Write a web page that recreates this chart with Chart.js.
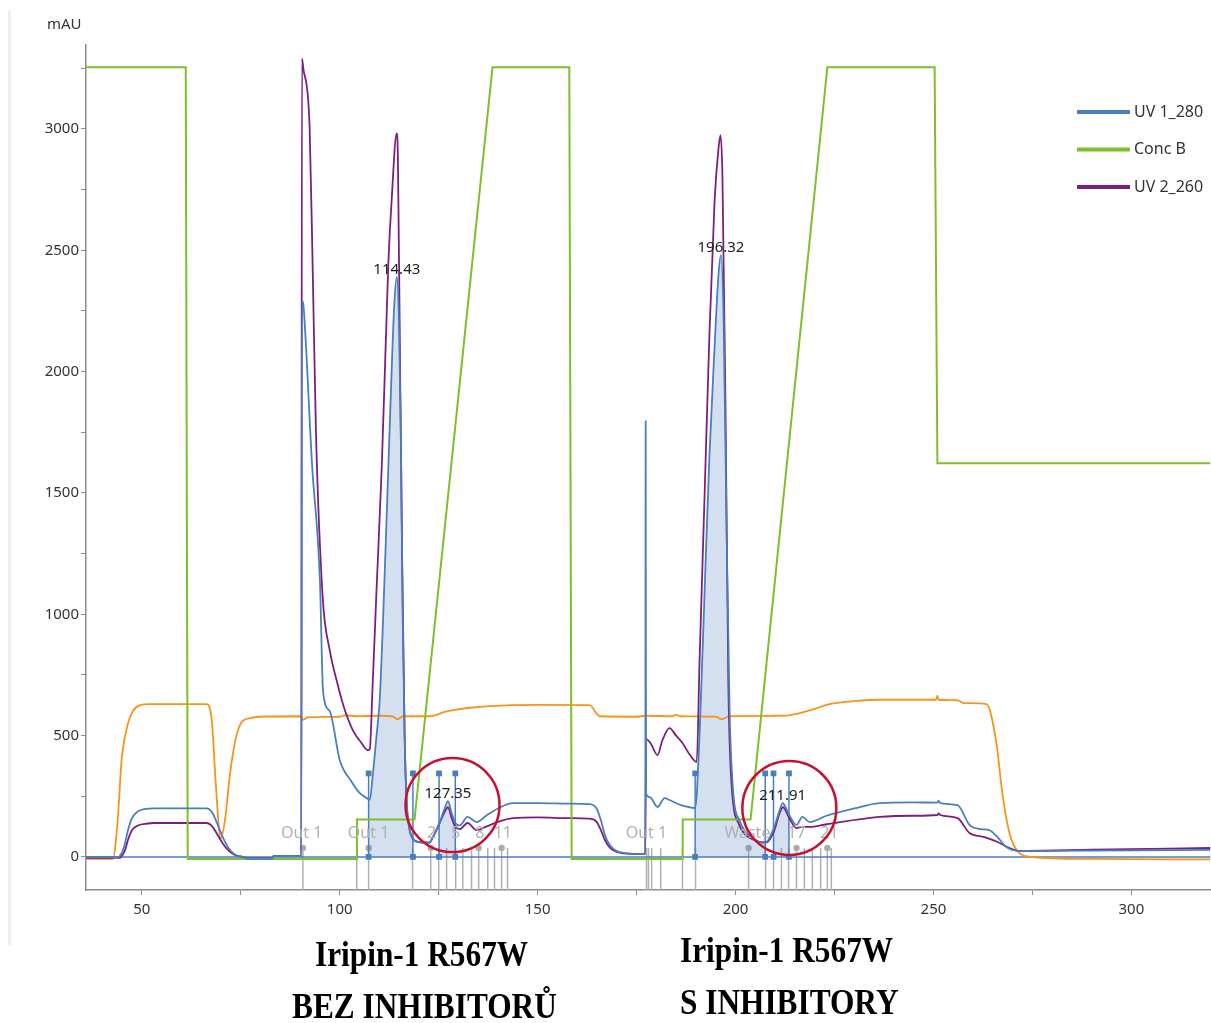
<!DOCTYPE html>
<html>
<head>
<meta charset="utf-8">
<script src="https://cdn.jsdelivr.net/npm/chart.js@4.4.0/dist/chart.umd.min.js"></script>
<style>
  body { margin: 0; background: #fff; }
  #wrap { position: relative; width: 1211px; height: 1023px; overflow: hidden; }
  #edge { position: absolute; left: 8px; top: 10px; width: 3px; height: 935px; background: #f0f0f0; }
  #chart { position: absolute; left: 0; top: 0; }
  .caption {
    position: absolute; font-family: "Liberation Serif", "Times New Roman", serif;
    font-weight: bold; font-size: 36px; line-height: 36px; color: #000;
    white-space: nowrap; transform: scaleX(0.87); transform-origin: left top;
  }
</style>
</head>
<body>
<div id="wrap">
  <div id="edge"></div>
  <!-- 5px wider than the page: Chart.js keeps a 5px right margin, which is cropped off -->
  <canvas id="chart" width="1216" height="935"></canvas>
  <div class="caption" style="left:315px; top:936px;">Iripin-1 R567W</div>
  <div class="caption" style="left:292px; top:988px;">BEZ INHIBITORŮ</div>
  <div class="caption" style="left:680px; top:932px;">Iripin-1 R567W</div>
  <div class="caption" style="left:680px; top:984px;">S INHIBITORY</div>
</div>
<script>
// axis ranges (minutes / mAU / %B)
const xMin = 35.9, xMax = 320;
const yMin = -136, yMax = 3346;
const concMin = -3.9, concMax = 102.8;
const xTicks = [50, 75, 100, 125, 150, 175, 200, 225, 250, 275, 300];
const yTicks = [0, 250, 500, 750, 1000, 1250, 1500, 1750, 2000, 2250, 2500, 2750, 3000, 3250];

// UV 1_280 (mAU)
const uv1Time = [35.9, 44.0, 44.5, 45.5, 46.5, 47.5, 49.0, 51.0, 53.0, 66.4, 67.7, 69.0, 70.5, 72.0, 73.5, 75.5, 77.0, 83.0, 83.2, 90.3,
  90.45, 90.7, 91.0, 93.0, 95.0, 95.8, 97.5, 100.0, 103.0, 105.0, 107.3, 107.6, 108.3, 109.3, 110.1, 111.0, 112.0, 113.0, 113.8, 114.43,
  114.9, 115.4, 115.9, 116.4, 116.9, 117.7, 118.5, 120.0, 122.7, 123.5, 125.1, 126.5, 127.35, 128.3, 129.2, 130.3, 132.3, 134.6, 137.0, 140.0,
  143.7, 150.0, 158.0, 163.0, 164.9, 166.0, 167.0, 168.2, 170.7, 175.8, 177.2, 177.3, 177.4, 178.3, 180.3, 182.1, 183.3, 186.0, 188.4, 189.8,
  190.9, 192.2, 193.4, 194.7, 195.7, 196.32, 197.0, 197.7, 198.5, 199.5, 201.0, 202.3, 204.0, 206.0, 207.5, 209.6, 211.1, 211.91, 213.5, 215.4,
  216.9, 218.7, 223.0, 230.0, 236.4, 245.0, 251.0, 251.3, 251.7, 256.1, 259.1, 262.0, 264.1, 266.2, 268.4, 271.7, 290.0, 320.0];
const uv1Values = [0, 0, 5, 40, 110, 160, 188, 198, 200, 200, 185, 140, 80, 35, 10, 0, -8, -8, 4, 4,
  2290, 2290, 2240, 1620, 1140, 680, 600, 400, 310, 264, 238, 235, 330, 500, 646, 1000, 1470, 1950, 2280, 2390,
  2250, 1800, 1000, 500, 230, 110, 75, 60, 58, 82, 135, 200, 230, 180, 140, 130, 165, 144, 170, 200,
  222, 222, 220, 218, 200, 150, 90, 50, 20, 12, 12, 1796, 260, 247, 206, 243, 235, 215, 205, 202,
  500, 1100, 1650, 2100, 2400, 2480, 2200, 1400, 600, 250, 150, 110, 80, 62, 58, 115, 190, 222, 175, 132,
  165, 144, 170, 200, 222, 225, 224, 232, 222, 214, 132, 115, 111, 82, 41, 25, 26, 29];

// UV 2_260 (mAU)
const uv2Time = [35.9, 44.2, 44.7, 45.7, 46.5, 47.5, 49.0, 51.5, 53.0, 66.4, 67.7, 69.0, 70.5, 72.0, 73.5, 75.5, 77.0, 83.0, 83.2, 90.3,
  90.45, 90.8, 92.4, 93.2, 94.0, 95.7, 97.5, 99.2, 101.0, 103.3, 105.5, 107.1, 107.6, 108.3, 109.3, 110.6, 111.6, 112.3, 113.1, 114.4,
  114.7, 115.2, 115.8, 116.4, 116.9, 117.7, 118.5, 120.0, 122.7, 123.5, 125.1, 126.5, 127.35, 128.3, 129.2, 130.3, 132.3, 134.6, 137.0, 140.0,
  143.7, 150.0, 158.0, 163.0, 164.9, 166.0, 167.0, 168.2, 170.7, 175.8, 177.2, 177.4, 178.5, 180.3, 181.5, 183.3, 185.0, 186.6, 188.5, 190.2,
  190.9, 192.2, 193.4, 194.7, 195.7, 196.2, 196.7, 197.5, 198.2, 199.0, 201.0, 202.3, 204.0, 206.0, 207.8, 209.8, 211.1, 212.0, 213.6, 215.4,
  216.9, 218.7, 223.0, 236.4, 245.0, 251.0, 251.3, 251.7, 256.1, 259.1, 262.9, 266.2, 269.2, 271.7, 290.0, 320.0];
const uv2Values = [-4, -4, 0, 25, 70, 110, 130, 138, 140, 140, 128, 95, 55, 25, 8, 0, -6, -6, 4, 4,
  3290, 3250, 3006, 2400, 1750, 1070, 850, 729, 620, 523, 470, 440, 445, 700, 1100, 1600, 2100, 2450, 2700, 2982,
  2880, 2100, 1200, 500, 230, 110, 75, 62, 60, 80, 135, 185, 205, 160, 125, 115, 140, 111, 125, 145,
  160, 163, 160, 158, 145, 110, 70, 40, 18, 12, 12, 486, 470, 420, 480, 531, 500, 470, 420, 391,
  800, 1500, 2150, 2700, 2920, 2975, 2800, 1800, 700, 300, 130, 95, 75, 62, 60, 110, 180, 205, 160, 119,
  125, 124, 135, 165, 170, 173, 180, 173, 160, 99, 82, 62, 37, 25, 30, 37];

// Conc B (%)
const concTime = [35.9, 61.1, 61.6, 104.3, 104.35, 118.9, 138.6, 158.0, 158.6, 186.6, 186.65, 203.8, 223.2, 250.3, 251.0, 320.0];
const concValues = [100, 100, 0, 0, 5, 5, 100, 100, 0, 0, 5, 5, 100, 100, 50, 50];

// conductivity trace (orange, shown in mAU scale)
const condTime = [35.9, 42.7, 43.9, 44.9, 46.2, 47.7, 49.5, 52.0, 66.4, 67.7, 68.7, 69.9, 71.0, 72.2, 73.5, 75.0, 77.3, 79.8, 90.3, 90.6,
  92.0, 100.0, 101.5, 104.0, 110.0, 113.5, 114.6, 116.0, 122.7, 127.0, 133.0, 143.7, 150.0, 163.1, 165.7, 175.0, 177.3, 184.0, 185.0, 186.0,
  195.0, 196.5, 198.5, 210.0, 213.6, 216.0, 220.0, 223.7, 230.0, 236.4, 250.7, 251.0, 251.3, 256.1, 257.8, 263.4, 265.9, 267.4, 269.2, 271.7,
  275.0, 290.0, 320.0];
const condValues = [-8, -8, 150, 400, 530, 600, 625, 630, 630, 560, 300, 78, 150, 330, 470, 550, 572, 578, 580, 565,
  575, 578, 584, 580, 582, 578, 568, 580, 580, 600, 615, 626, 627, 626, 580, 578, 582, 580, 586, 580,
  578, 568, 580, 582, 584, 592, 610, 630, 642, 648, 648, 665, 648, 646, 634, 630, 470, 264, 99, 16,
  0, -8, -10];

// integrated peaks
const peakTimes = [114.43, 127.35, 196.32, 211.91];
const peakHeights = [2390, 230, 2480, 222];
const peakStart = [107.3, 125.1, 189.8, 209.6];
const peakEnd = [118.5, 129.2, 207.5, 213.5];
const peakMarkerTop = 345;

// fractions
const fractionTimes = [90.7, 104.3, 107.3, 118.4, 123.0, 125.0, 127.0, 129.3, 131.1, 133.3, 135.1, 137.4, 139.1, 140.9, 142.4,
  177.5, 178.0, 178.8, 181.1, 186.6, 189.9, 203.3, 207.6, 209.6, 211.6, 213.4, 215.4, 217.4, 219.4, 221.5, 223.2, 224.2];
const fractionDots = [90.7, 107.3, 123.0, 135.1, 141.2, 203.3, 215.4, 223.2];
const fractionTop = 37;
const fractionLabelTimes = [90.4, 107.3, 123.2, 129.3, 135.4, 141.2, 177.5, 203.0, 215.4, 223.7];
const fractionLabels = ['Out 1', 'Out 1', '2', '5', '8', '11', 'Out 1', 'Waste', '17', '21'];

// highlighted peaks (red circles)
const circleTimes = [128.5, 213.6];
const circleValues = [214, 202];

const BLUE = '#4a7ebf', GREEN = '#7cc02a', PURPLE = '#7b1f7e', ORANGE = '#f7941d';

const toXY = (ts, vs) => ts.map((t, i) => ({ x: t, y: vs[i] }));
const uv1Points = toXY(uv1Time, uv1Values);

// shaded area under UV1 inside peak windows
const shadePoints = [];
peakStart.forEach((s, k) => {
  uv1Points.forEach(p => { if (p.x >= s && p.x <= peakEnd[k]) shadePoints.push(p); });
  shadePoints.push({ x: peakEnd[k], y: null });
});

const markerPoints = [];
peakStart.concat(peakEnd).sort((a, b) => a - b).forEach(t => {
  markerPoints.push({ x: t, y: 0 }, { x: t, y: peakMarkerTop }, { x: t, y: null });
});

const fractionPoints = [];
fractionTimes.forEach(t => {
  fractionPoints.push({ x: t, y: yMin }, { x: t, y: fractionTop }, { x: t, y: null });
});
const hasDot = t => fractionDots.some(d => Math.abs(d - t) < 0.3);

const legendItems = [
  { label: 'UV 1_280', color: BLUE },
  { label: 'Conc B', color: GREEN },
  { label: 'UV 2_260', color: PURPLE }
];

const overlayPlugin = {
  id: 'overlay',
  afterDatasetsDraw(chart) {
    const ctx = chart.ctx;
    const xs = chart.scales.x, ys = chart.scales.y;
    ctx.save();
    // fraction labels
    ctx.font = '16px "Noto Sans", sans-serif';
    ctx.fillStyle = '#b0b0b0';
    ctx.textAlign = 'center';
    ctx.textBaseline = 'middle';
    fractionLabelTimes.forEach((t, i) => {
      ctx.fillText(fractionLabels[i], xs.getPixelForValue(t), ys.getPixelForValue(0) - 24);
    });
    // peak labels
    ctx.font = '15px "Noto Sans", sans-serif';
    ctx.fillStyle = '#222';
    peakTimes.forEach((t, i) => {
      ctx.fillText(t.toFixed(2), xs.getPixelForValue(t), ys.getPixelForValue(peakHeights[i]) - 7);
    });
    // red circles
    ctx.strokeStyle = '#c8102e';
    ctx.lineWidth = 2.5;
    circleTimes.forEach((t, i) => {
      ctx.beginPath();
      ctx.arc(xs.getPixelForValue(t), ys.getPixelForValue(circleValues[i]), 47, 0, Math.PI * 2);
      ctx.stroke();
    });
    // legend
    ctx.font = '16px "Noto Sans", sans-serif';
    ctx.textAlign = 'left';
    legendItems.forEach((item, i) => {
      const y = 112 + i * 37.5;
      ctx.strokeStyle = item.color;
      ctx.lineWidth = 4;
      ctx.beginPath();
      ctx.moveTo(1077, y);
      ctx.lineTo(1130, y);
      ctx.stroke();
      ctx.fillStyle = '#333';
      ctx.fillText(item.label, 1134, y);
    });
    // axis unit
    ctx.font = '15px "Noto Sans", sans-serif';
    ctx.fillStyle = '#333';
    ctx.fillText('mAU', chart.chartArea.left - 39, chart.chartArea.top - 20);
    ctx.restore();
  }
};

new Chart(document.getElementById('chart'), {
  type: 'line',
  data: {
    datasets: [
      { label: 'UV 1_280', data: uv1Points, borderColor: BLUE, borderWidth: 1.8, order: 0 },
      { label: 'Conc B', data: toXY(concTime, concValues), borderColor: GREEN, borderWidth: 2, yAxisID: 'yConc', cubicInterpolationMode: 'default', tension: 0, order: 1 },
      { label: 'UV 2_260', data: toXY(uv2Time, uv2Values), borderColor: PURPLE, borderWidth: 1.8, order: 2 },
      { label: 'Cond', data: toXY(condTime, condValues), borderColor: ORANGE, borderWidth: 1.8, order: 3 },
      { label: 'Peaks', data: markerPoints, borderColor: BLUE, backgroundColor: BLUE, borderWidth: 1.5,
        pointRadius: 3, pointStyle: 'rect', spanGaps: false, tension: 0, cubicInterpolationMode: 'default', order: 4 },
      { label: 'Baseline', data: [{ x: xMin, y: 0 }, { x: xMax, y: 0 }], borderColor: BLUE, borderWidth: 1.5, order: 5 },
      { label: 'Peak area', data: shadePoints, borderColor: 'rgba(0,0,0,0)', borderWidth: 0,
        backgroundColor: 'rgba(74,126,191,0.24)', fill: 'origin', spanGaps: false, order: 6 },
      { label: 'Fractions', data: fractionPoints, borderColor: '#b0b0b0', backgroundColor: '#a8a8a8', borderWidth: 1.5,
        spanGaps: false, tension: 0, cubicInterpolationMode: 'default', order: 7,
        pointRadius: c => (c.raw && c.raw.y === fractionTop && hasDot(c.raw.x) ? 2.5 : 0) }
    ]
  },
  options: {
    responsive: false,
    animation: false,
    devicePixelRatio: 1,
    layout: { padding: { top: 45, right: 0, left: 0, bottom: 0 } },
    elements: {
      point: { radius: 0 },
      line: { cubicInterpolationMode: 'monotone', fill: false }
    },
    plugins: { legend: { display: false }, tooltip: { enabled: false } },
    scales: {
      x: {
        type: 'linear', min: xMin, max: xMax,
        afterBuildTicks(scale) { scale.ticks = xTicks.map(v => ({ value: v })); },
        afterFit(scale) { scale.height = 45; },
        grid: { drawOnChartArea: false, drawTicks: true, tickLength: 5, color: '#8c8c8c' },
        border: { color: '#8c8c8c', width: 1.5 },
        ticks: {
          autoSkip: false, maxRotation: 0, padding: 6,
          color: '#333', font: { family: 'Noto Sans', size: 15 },
          callback: v => (v % 50 === 0 ? String(v) : '')
        }
      },
      y: {
        type: 'linear', min: yMin, max: yMax,
        afterBuildTicks(scale) { scale.ticks = yTicks.map(v => ({ value: v })); },
        afterFit(scale) { scale.width = 86; },
        grid: { drawOnChartArea: false, drawTicks: true, tickLength: 5, color: '#8c8c8c' },
        border: { color: '#8c8c8c', width: 1.5 },
        ticks: {
          autoSkip: false, padding: 2,
          color: '#333', font: { family: 'Noto Sans', size: 15 },
          callback: v => (v % 500 === 0 ? String(v) : '')
        }
      },
      yConc: { type: 'linear', display: false, min: concMin, max: concMax }
    }
  },
  plugins: [overlayPlugin]
});
</script>
</body>
</html>
